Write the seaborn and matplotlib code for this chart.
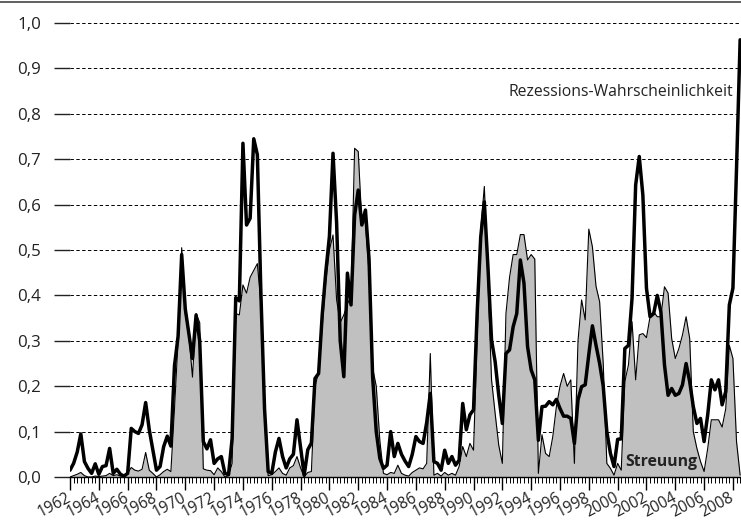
import numpy as np
import pandas as pd
import matplotlib
matplotlib.use("Agg")
import matplotlib.pyplot as plt
from matplotlib.lines import Line2D
from matplotlib.ticker import FixedLocator, FuncFormatter
import seaborn as sns

# quarterly data 1962 Q1 .. 2008 Q3
start_year = 1962
rezession = [
    0.015, 0.030, 0.055, 0.095,  # 1962
    0.034, 0.019, 0.008, 0.029,  # 1963
    0.006, 0.023, 0.025, 0.063,  # 1964
    0.008, 0.017, 0.006, 0.002,  # 1965
    0.008, 0.107, 0.100, 0.096,  # 1966
    0.115, 0.164, 0.104, 0.060,  # 1967
    0.015, 0.023, 0.067, 0.090,  # 1968
    0.068, 0.245, 0.310, 0.490,  # 1969
    0.370, 0.315, 0.261, 0.357,  # 1970
    0.300, 0.078, 0.062, 0.082,  # 1971
    0.030, 0.040, 0.045, 0.008,  # 1972
    0.005, 0.085, 0.395, 0.388,  # 1973
    0.735, 0.555, 0.570, 0.745,  # 1974
    0.710, 0.400, 0.150, 0.012,  # 1975
    0.008, 0.055, 0.085, 0.045,  # 1976
    0.020, 0.040, 0.050, 0.126,  # 1977
    0.065, 0.004, 0.060, 0.075,  # 1978
    0.217, 0.228, 0.357, 0.452,  # 1979
    0.530, 0.713, 0.560, 0.300,  # 1980
    0.221, 0.449, 0.379, 0.577,  # 1981
    0.632, 0.555, 0.588, 0.480,  # 1982
    0.220, 0.100, 0.041, 0.019,  # 1983
    0.026, 0.100, 0.045, 0.074,  # 1984
    0.050, 0.035, 0.023, 0.050,  # 1985
    0.089, 0.078, 0.074, 0.120,  # 1986
    0.184, 0.034, 0.030, 0.015,  # 1987
    0.059, 0.030, 0.045, 0.026,  # 1988
    0.037, 0.162, 0.104, 0.137,  # 1989
    0.148, 0.360, 0.529, 0.606,  # 1990
    0.463, 0.302, 0.254, 0.180,  # 1991
    0.118, 0.272, 0.280, 0.331,  # 1992
    0.360, 0.478, 0.427, 0.287,  # 1993
    0.236, 0.214, 0.081, 0.155,  # 1994
    0.156, 0.166, 0.159, 0.171,  # 1995
    0.151, 0.134, 0.134, 0.129,  # 1996
    0.074, 0.170, 0.199, 0.203,  # 1997
    0.270, 0.333, 0.290, 0.250,  # 1998
    0.200, 0.100, 0.052, 0.023,  # 1999
    0.083, 0.084, 0.283, 0.290,  # 2000
    0.394, 0.643, 0.706, 0.621,  # 2001
    0.416, 0.353, 0.360, 0.400,  # 2002
    0.364, 0.247, 0.180, 0.195,  # 2003
    0.180, 0.184, 0.203, 0.250,  # 2004
    0.210, 0.155, 0.118, 0.129,  # 2005
    0.078, 0.137, 0.214, 0.192,  # 2006
    0.214, 0.159, 0.188, 0.379,  # 2007
    0.416, 0.680, 0.963,         # 2008
]
streuung = [
    0.000, 0.003, 0.006, 0.010,  # 1962
    0.003, 0.000, 0.000, 0.002,  # 1963
    0.001, 0.002, 0.003, 0.008,  # 1964
    0.003, 0.005, 0.002, 0.003,  # 1965
    0.008, 0.021, 0.015, 0.013,  # 1966
    0.017, 0.054, 0.015, 0.008,  # 1967
    0.000, 0.005, 0.012, 0.017,  # 1968
    0.012, 0.150, 0.300, 0.505,  # 1969
    0.360, 0.310, 0.220, 0.360,  # 1970
    0.340, 0.018, 0.015, 0.014,  # 1971
    0.005, 0.020, 0.012, 0.000,  # 1972
    0.003, 0.030, 0.360, 0.357,  # 1973
    0.423, 0.405, 0.440, 0.455,  # 1974
    0.470, 0.380, 0.130, 0.003,  # 1975
    0.005, 0.012, 0.020, 0.008,  # 1976
    0.004, 0.020, 0.025, 0.045,  # 1977
    0.020, 0.000, 0.010, 0.012,  # 1978
    0.200, 0.230, 0.330, 0.430,  # 1979
    0.500, 0.533, 0.390, 0.340,  # 1980
    0.357, 0.380, 0.400, 0.724,  # 1981
    0.717, 0.560, 0.560, 0.450,  # 1982
    0.240, 0.200, 0.080, 0.008,  # 1983
    0.005, 0.010, 0.008, 0.026,  # 1984
    0.008, 0.004, 0.002, 0.010,  # 1985
    0.015, 0.020, 0.018, 0.030,  # 1986
    0.272, 0.004, 0.008, 0.002,  # 1987
    0.010, 0.004, 0.008, 0.004,  # 1988
    0.023, 0.067, 0.045, 0.074,  # 1989
    0.059, 0.300, 0.544, 0.640,  # 1990
    0.434, 0.214, 0.140, 0.070,  # 1991
    0.030, 0.360, 0.440, 0.490,  # 1992
    0.490, 0.534, 0.534, 0.478,  # 1993
    0.490, 0.480, 0.008, 0.093,  # 1994
    0.052, 0.045, 0.089, 0.155,  # 1995
    0.200, 0.228, 0.200, 0.214,  # 1996
    0.030, 0.300, 0.390, 0.346,  # 1997
    0.546, 0.507, 0.420, 0.386,  # 1998
    0.250, 0.030, 0.019, 0.004,  # 1999
    0.030, 0.015, 0.210, 0.247,  # 2000
    0.342, 0.214, 0.313, 0.316,  # 2001
    0.307, 0.353, 0.364, 0.353,  # 2002
    0.353, 0.419, 0.405, 0.305,  # 2003
    0.261, 0.283, 0.313, 0.353,  # 2004
    0.305, 0.100, 0.063, 0.034,  # 2005
    0.012, 0.063, 0.126, 0.126,  # 2006
    0.126, 0.110, 0.150, 0.290,  # 2007
    0.261, 0.078, 0.004,         # 2008
]
year_ticks = list(range(1962, 2009, 2))
y_ticks = [0.0, 0.1, 0.2, 0.3, 0.4, 0.5, 0.6, 0.7, 0.8, 0.9, 1.0]
label_line = "Rezessions-Wahrscheinlichkeit"
label_area = "Streuung"

quarters = start_year + np.arange(len(rezession)) / 4.0
df = pd.DataFrame({"t": quarters, "rez": rezession, "str": streuung})

sns.set_theme(style="white")
plt.rcParams["font.family"] = ["Open Sans", "DejaVu Sans"]
FS = 11.3

W, H = 741, 522
fig = plt.figure(figsize=(W / 100, H / 100), dpi=100)
x0, x1 = 70, 741
y0, y1 = 477, 23
ax = fig.add_axes([x0 / W, (H - y0) / H, (x1 - x0) / W, (y0 - y1) / H])

ax.fill_between(df["t"], 0, df["str"], color="#c0c0c0", lw=0, zorder=2)
sns.lineplot(data=df, x="t", y="str", ax=ax, color="black", lw=0.8, zorder=3)
sns.lineplot(data=df, x="t", y="rez", ax=ax, color="black", lw=2.5, zorder=4)

ax.set_xlim(1962, 2008.56)
ax.set_ylim(0, 1.0)
ax.set_xlabel("")
ax.set_ylabel("")

for s in ["top", "right", "left"]:
    ax.spines[s].set_visible(False)
ax.spines["bottom"].set_color("black")
ax.spines["bottom"].set_linewidth(1.0)
ax.spines["bottom"].set_zorder(5)

ax.set_yticks(y_ticks)
ax.yaxis.set_major_formatter(FuncFormatter(lambda v, p: f"{v:.1f}".replace(".", ",")))
ax.tick_params(axis="y", length=11.5, width=1.0, pad=9.5, labelsize=12.2,
               labelcolor="#222222", color="#222222", left=True)
tick_cols = ["black", "#777777", "black", "#777777", "#777777", "black",
             "#777777", "#777777", "black", "#777777", "black"]
for tk, c in zip(ax.yaxis.get_major_ticks(), tick_cols):
    tk.tick1line.set_color(c)

ax.yaxis.grid(True, color="black", linestyle=(0, (3.5, 2.5)), linewidth=0.7)
ax.xaxis.grid(False)
ax.set_axisbelow(True)

ax.xaxis.set_major_locator(FixedLocator(year_ticks))
ax.xaxis.set_minor_locator(FixedLocator(list(np.arange(1962, 2008.6, 0.25))))
ax.tick_params(axis="x", which="major", length=9, width=1.0, color="black",
               bottom=True, labelsize=11.2, labelcolor="#222222", pad=2)
ax.tick_params(axis="x", which="minor", length=4.5, width=0.7, color="black", bottom=True)
ax.set_xticklabels([str(y) for y in year_ticks], rotation=28, ha="right",
                   rotation_mode="anchor", va="center")
for lab in ax.get_xticklabels():
    lab.set_y(-0.011)

ax.text(2008.0, 0.848, label_line, ha="right", va="center", fontsize=FS,
        color="#222222", zorder=6)
ax.text(2000.55, 0.034, label_area, ha="left", va="center", fontsize=FS,
        fontweight="bold", color="#222222", zorder=6)

fig.add_artist(Line2D([0, 1], [1 - 1.5 / H, 1 - 1.5 / H], color="#444444", lw=1.2,
                      transform=fig.transFigure))

fig.savefig("out.png", dpi=100)
